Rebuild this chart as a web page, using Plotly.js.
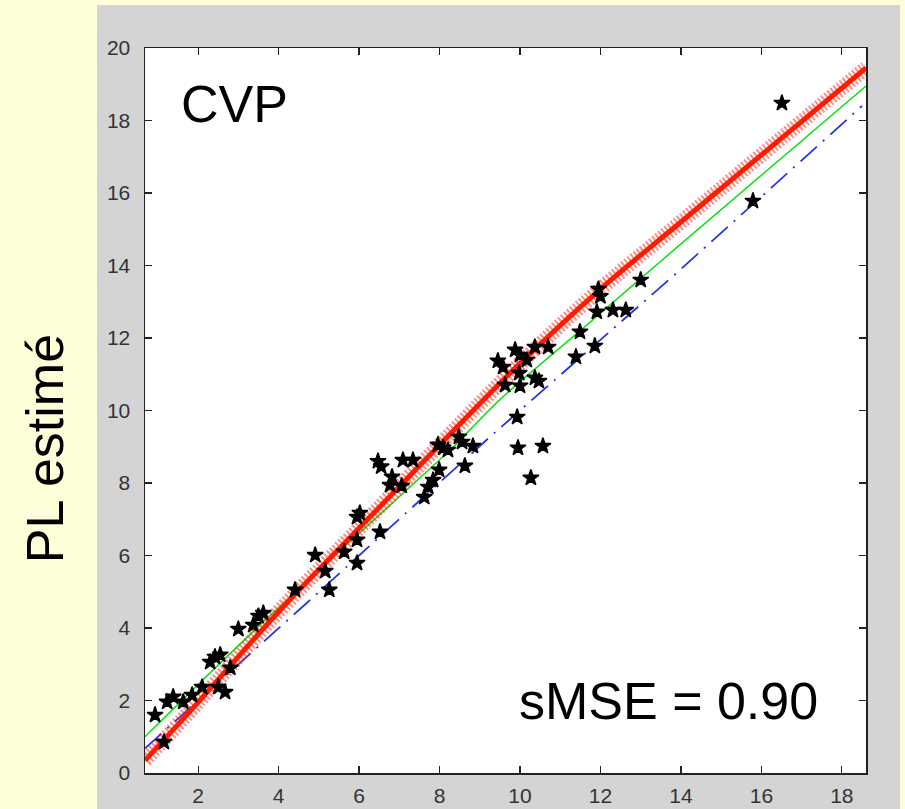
<!DOCTYPE html>
<html>
<head>
<meta charset="utf-8">
<script src="https://cdn.plot.ly/plotly-3.0.1.min.js"></script>
<style>html,body{margin:0;padding:0;background:#FEFED8;}#chart{width:905px;height:809px;}</style>
</head>
<body>
<div id="chart"></div>
<script>
// Observed points (true PL vs estimated PL)
const obsX = [0.93,1.15,1.23,1.38,1.63,1.85,2.1,2.3,2.42,2.55,2.5,2.67,2.8,3.0,3.37,3.5,3.62,
  4.41,4.91,5.16,5.26,5.63,5.95,5.95,5.95,6.02,6.47,6.55,6.52,6.82,6.77,7.09,7.06,7.34,7.62,7.72,7.84,7.99,7.96,8.09,8.21,8.48,8.56,8.63,8.83,
  9.45,9.58,9.88,10.0,10.17,9.98,9.63,10.0,10.37,10.47,10.37,10.7,9.93,9.95,10.57,10.27,
  11.39,11.49,11.86,11.91,11.95,12.0,12.31,12.63,13.0,15.79,16.51];
const obsY = [1.6,0.85,1.96,2.1,1.96,2.15,2.37,3.06,3.2,3.26,2.37,2.23,2.9,3.97,4.08,4.33,4.41,
  5.05,6.01,5.57,5.05,6.1,5.79,6.43,7.06,7.17,8.6,8.45,6.65,8.17,7.94,8.63,7.92,8.63,7.61,7.89,8.08,8.36,9.05,8.97,8.91,9.27,9.13,8.47,9.02,
  11.37,11.2,11.67,11.53,11.39,11.03,10.7,10.68,10.9,10.81,11.75,11.75,9.82,8.97,9.02,8.14,
  11.48,12.17,11.78,12.72,13.35,13.15,12.77,12.77,13.6,15.78,18.48];

// Red fitted curve
const redX = [0.68,2,4,6,8,10,12,14,16,18.6];
const redY = [0.35,1.95,4.45,6.75,9.05,11.3,13.35,15.2,17.05,19.45];
// Green line
const greenX = [0.68,2.8,5,8.3,9.5,11.6,13.9,18.6];
const greenY = [1.0,3.3,5.6,8.95,10.3,12.3,14.5,18.95];
// Blue dash-dot line
const blueX = [0.68,4.7,9.25,13.9,18.5];
const blueY = [0.68,4.69,9.27,13.8,18.4];

const xTicks = [2,4,6,8,10,12,14,16,18];
const yTicks = [0,2,4,6,8,10,12,14,16,18,20];

const FONT = '"Liberation Sans", Arial, Helvetica, sans-serif';

const traces = [
  {x: blueX, y: blueY, mode: 'lines', line: {color: '#2233ee', width: 1.8, dash: '22px,8px,2px,8px'}, hoverinfo: 'skip'},
  {x: greenX, y: greenY, mode: 'lines', line: {color: '#11e011', width: 1.5, shape: 'spline', smoothing: 0.8}, hoverinfo: 'skip'},
  {x: redX, y: redY, mode: 'lines', line: {color: 'rgba(255,30,20,0.5)', width: 15, dash: '2px,2px', shape: 'spline', smoothing: 1}, hoverinfo: 'skip'},
  {x: redX, y: redY, mode: 'lines', line: {color: '#ff1a00', width: 5, shape: 'spline', smoothing: 1}, hoverinfo: 'skip'},
  {x: obsX, y: obsY, mode: 'markers', marker: {symbol: 'star', size: 12, color: '#000000', line: {width: 1.5, color: '#000000'}}}
];

const axisCommon = {
  showgrid: false, zeroline: false, showline: true, linecolor: '#222', linewidth: 1.5,
  mirror: 'ticks', ticks: 'inside', ticklen: 7, tickwidth: 1.2, tickcolor: '#222',
  tickfont: {family: FONT, size: 21, color: '#333'}
};

const layout = {
  width: 905, height: 809,
  margin: {l: 145, r: 39, t: 48, b: 36},
  paper_bgcolor: '#FEFED8', plot_bgcolor: 'rgba(0,0,0,0)',
  showlegend: false,
  xaxis: Object.assign({}, axisCommon, {range: [0.68, 18.6], tickmode: 'array', tickvals: xTicks, ticklabelstandoff: 3}),
  yaxis: Object.assign({}, axisCommon, {range: [0, 20], tickmode: 'array', tickvals: yTicks, ticklabelstandoff: 9}),
  shapes: [
    {type: 'rect', xref: 'paper', yref: 'paper', x0: -0.0666, x1: 1.0472, y0: -0.08, y1: 1.0593,
     fillcolor: '#D4D4D4', line: {width: 0}, layer: 'below'},
    {type: 'rect', xref: 'paper', yref: 'paper', x0: 0, x1: 1, y0: 0, y1: 1,
     fillcolor: '#FFFFFF', line: {width: 0}, layer: 'below'}
  ],
  annotations: [
    {text: 'CVP', x: 1.53, y: 18.45, xref: 'x', yref: 'y', xanchor: 'left', yanchor: 'middle', showarrow: false,
     font: {family: FONT, size: 52, color: '#000'}},
    {text: 'sMSE = 0.90', x: 17.45, y: 1.99, xref: 'x', yref: 'y', xanchor: 'right', yanchor: 'middle', showarrow: false,
     font: {family: FONT, size: 52, color: '#000'}},
    {text: 'PL estimé', x: -0.1387, y: 0.448, xref: 'paper', yref: 'paper', xanchor: 'center', yanchor: 'middle',
     textangle: -90, showarrow: false, font: {family: FONT, size: 52, color: '#000'}}
  ]
};

Plotly.newPlot('chart', traces, layout, {displayModeBar: false, staticPlot: true});
</script>
</body>
</html>
